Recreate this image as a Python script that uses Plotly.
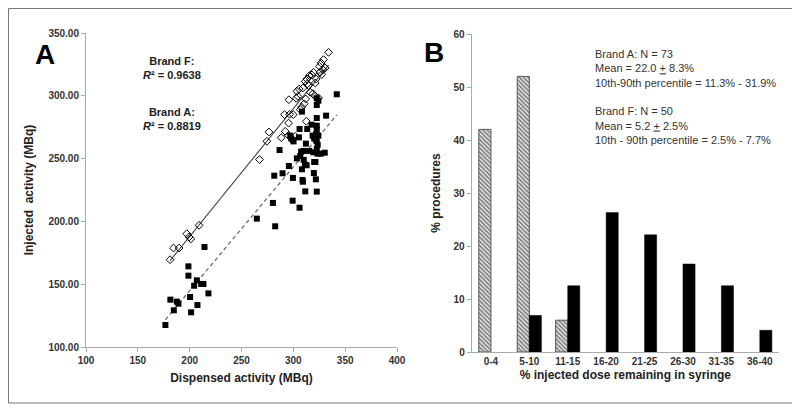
import numpy as np
import plotly.graph_objects as go

# ---------------- Data ----------------
brand_a_x = [176.6, 181.4, 184.7, 187.6, 189.2, 200.4, 198.8, 198.8, 201.4, 204.3,
             206.9, 207.5, 211.1, 213.3, 214.3, 218.1, 264.8, 280.3, 282.5, 281.6,
             286.7, 289.6, 295.7, 299.3, 299.6, 297.0, 299.6, 305.4, 306.0, 303.4,
             306.0, 308.3, 306.7, 308.3, 308.9, 309.2, 309.9, 311.2, 311.5, 312.1,
             312.8, 313.4, 315.3, 317.5, 319.8, 320.1, 318.6, 320.1, 321.3, 321.7,
             322.6, 322.6, 322.6, 322.6, 322.6, 322.6, 322.6, 322.6, 323.3, 324.2,
             326.4, 330.3, 331.6, 341.9, 324.2, 321.7, 300.2, 310.0, 319.4, 322.0,
             298.0, 307.5, 323.5]
brand_a_y = [117.5, 137.7, 129.2, 136.1, 134.5, 139.8, 156.8, 164.2, 127.6, 148.8,
             153.1, 133.4, 150.2, 150.2, 179.6, 142.7, 202.2, 214.7, 196.1, 236.4,
             256.8, 238.3, 244.1, 216.5, 234.6, 268.3, 264.8, 266.9, 273.6, 250.2,
             210.9, 287.4, 252.1, 241.5, 233.0, 231.6, 256.1, 245.2, 223.9, 261.9,
             244.7, 273.6, 256.1, 277.0, 238.5, 247.3, 268.3, 266.1, 247.3, 233.5,
             223.7, 298.0, 292.7, 282.3, 276.2, 273.0, 263.8, 257.6, 253.9, 268.3,
             253.9, 254.7, 284.2, 301.2, 296.1, 265.1, 263.7, 249.0, 255.0, 269.5,
             266.0, 255.5, 261.0]

brand_f_x = [181.1, 184.4, 189.8, 197.2, 199.5, 201.1, 209.1, 267.4, 274.5, 276.5,
             288.3, 291.5, 292.2, 295.4, 295.4, 295.7, 296.4, 299.9, 301.9, 302.8,
             303.4, 305.7, 306.7, 310.5, 311.9, 312.5, 311.5, 313.1, 314.7, 316.3,
             317.9, 318.9, 319.5, 321.1, 322.1, 324.3, 325.2, 326.8, 328.5, 329.1,
             330.7, 334.0, 309.2, 315.6, 321.1, 325.8, 308.0, 313.5, 327.5, 304.5]
brand_f_y = [169.5, 178.8, 178.8, 190.2, 187.6, 186.0, 196.9, 249.2, 263.8, 271.2,
             266.7, 285.0, 271.7, 268.5, 278.3, 296.9, 285.3, 285.0, 267.7, 298.0,
             303.6, 305.4, 289.0, 293.7, 297.5, 279.7, 311.5, 313.4, 308.1, 302.8,
             316.6, 301.7, 318.7, 299.6, 313.4, 298.3, 323.5, 326.1, 320.8, 328.8,
             322.2, 334.6, 306.2, 316.1, 310.2, 318.7, 291.0, 309.5, 317.0, 299.5]

r2_f = "0.9638"
r2_a = "0.8819"

categories = ["0-4", "5-10", "11-15", "16-20", "21-25", "26-30", "31-35", "36-40"]
pct_brand_f = [42.0, 52.0, 6.0, 0, 0, 0, 0, 0]
pct_brand_a = [0, 6.9, 12.5, 26.3, 22.1, 16.6, 12.5, 4.1]

x_ticks_a = [100, 150, 200, 250, 300, 350, 400]
y_ticks_a = [100, 150, 200, 250, 300, 350]
y_ticks_b = [0, 10, 20, 30, 40, 50, 60]

# ---------------- Layout helpers ----------------
OFF = 8               # page body margin
W, H = 800 - OFF, 409 - OFF

def px(x):
    return (x - OFF) / W

def py(y):
    return 1 - (y - OFF) / H

FONT = "Arial, Liberation Sans, sans-serif"
fig = go.Figure()

# regression lines computed from the data
def fit_line(xs, ys):
    m, b = np.polyfit(xs, ys, 1)
    xx = np.array([min(xs), max(xs)])
    return xx, m * xx + b

fx, fy = fit_line(brand_f_x, brand_f_y)
ax_, ay_ = fit_line(brand_a_x, brand_a_y)

fig.add_trace(go.Scatter(x=fx, y=fy, mode="lines", xaxis="x", yaxis="y",
                         line=dict(color="#444444", width=1.1), showlegend=False))
fig.add_trace(go.Scatter(x=ax_, y=ay_, mode="lines", xaxis="x", yaxis="y",
                         line=dict(color="#777777", width=1.4, dash="4px,3px"), showlegend=False))
fig.add_trace(go.Scatter(x=brand_a_x, y=brand_a_y, mode="markers", xaxis="x", yaxis="y",
                         marker=dict(symbol="square", size=6, color="black"),
                         name="Brand A", showlegend=False))
fig.add_trace(go.Scatter(x=brand_f_x, y=brand_f_y, mode="markers", xaxis="x", yaxis="y",
                         marker=dict(symbol="diamond-open", size=6, color="black",
                                     line=dict(width=1)),
                         name="Brand F", showlegend=False))

f_line_w = [1 if v > 0 else 0 for v in pct_brand_f]
a_line_w = [0.5 if v > 0 else 0 for v in pct_brand_a]
fig.add_trace(go.Bar(x=categories, y=pct_brand_f, xaxis="x2", yaxis="y2", name="Brand F",
                     marker=dict(color="#f4f4f4",
                                 pattern=dict(shape="\\", fgcolor="#111111", size=3, solidity=0.6),
                                 line=dict(color="#555555", width=f_line_w)),
                     showlegend=False))
fig.add_trace(go.Bar(x=categories, y=pct_brand_a, xaxis="x2", yaxis="y2", name="Brand A",
                     marker=dict(color="black", line=dict(color="black", width=a_line_w)),
                     showlegend=False))

tickfont = dict(family=FONT, size=10, color="#333333", weight="bold")
titlefont = dict(family=FONT, size=12, color="#222222", weight="bold")
axcol = "#aaaaaa"

fig.update_layout(
    width=W, height=H, autosize=False,
    margin=dict(l=0, r=0, t=0, b=0),
    paper_bgcolor="white", plot_bgcolor="white",
    barmode="group", bargap=0.37, bargroupgap=0,
    xaxis=dict(domain=[px(86), px(397)], range=[100, 400], tickvals=x_ticks_a,
               showgrid=False, zeroline=False, showline=True, linecolor=axcol,
               ticks="outside", ticklen=4, tickcolor=axcol, tickfont=tickfont,
               title=dict(text="Dispensed activity (MBq)", font=titlefont, standoff=8),
               anchor="y", automargin=False),
    yaxis=dict(domain=[py(347), py(33)], range=[100, 350], tickvals=y_ticks_a,
               tickformat=".2f",
               showgrid=False, zeroline=False, showline=True, linecolor=axcol,
               ticks="outside", ticklen=4, tickcolor=axcol, tickfont=tickfont,
               title=dict(text="Injected  activity (MBq)", font=titlefont, standoff=12),
               anchor="x", automargin=False),
    xaxis2=dict(domain=[px(471.7), px(779)], showgrid=False, zeroline=False, showline=True,
                linecolor=axcol, ticks="", tickfont=tickfont,
                title=dict(text="% injected dose remaining in syringe", font=titlefont, standoff=4),
                anchor="y2", automargin=False),
    yaxis2=dict(domain=[py(352), py(34)], range=[0, 60], tickvals=y_ticks_b,
                showgrid=False, zeroline=False, showline=True, linecolor=axcol,
                ticks="outside", ticklen=4, tickcolor=axcol, tickfont=tickfont,
                title=dict(text="% procedures", font=titlefont, standoff=10),
                anchor="x2", automargin=False),
)

# outer frame
fig.add_shape(type="rect", xref="paper", yref="paper",
              x0=px(8.5), x1=px(795), y0=py(403), y1=py(8.5),
              line=dict(color="#777777", width=1))

# panel letters
fig.add_annotation(text="<b>A</b>", xref="paper", yref="paper", x=px(33), y=py(37),
                   showarrow=False, font=dict(family=FONT, size=28, color="black"))
fig.add_annotation(text="<b>B</b>", xref="paper", yref="paper", x=px(434), y=py(35),
                   showarrow=False, font=dict(family=FONT, size=28, color="black"))

# R² annotations
ann_font = dict(family=FONT, size=11, color="#222222")
fig.add_annotation(text="<b>Brand F:</b><br><b><i>R</i>² = " + r2_f + "</b>",
                   xref="paper", yref="paper", x=px(141), y=py(53),
                   showarrow=False, align="center", font=ann_font)
fig.add_annotation(text="<b>Brand A:</b><br><b><i>R</i>² = " + r2_a + "</b>",
                   xref="paper", yref="paper", x=px(141), y=py(104),
                   showarrow=False, align="center", font=ann_font)

# panel B stats text
stats = ("Brand A: N = 73<br>Mean = 22.0 <u>+</u> 8.3%<br>"
         "10th-90th percentile = 11.3% - 31.9%<br><br>"
         "Brand F: N = 50<br>Mean = 5.2 <u>+</u> 2.5%<br>"
         "10th - 90th percentile = 2.5% - 7.7%")
fig.add_annotation(text=stats, xref="paper", yref="paper", x=px(593), y=py(46),
                   xanchor="left", yanchor="top", showarrow=False, align="left",
                   font=dict(family=FONT, size=11, color="#333333"))

fig.write_html("out.html")
